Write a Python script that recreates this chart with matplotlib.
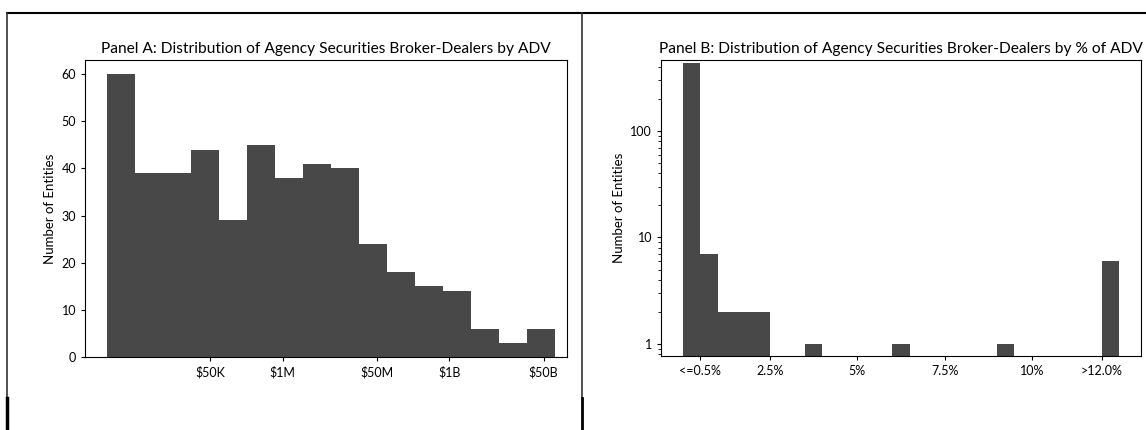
import matplotlib
matplotlib.use('Agg')
import matplotlib.pyplot as plt
from matplotlib.lines import Line2D
import numpy as np

plt.rcParams['font.family'] = ['Lato', 'DejaVu Sans']

# Panel A: counts per ADV bin (x axis is log10 of ADV in $)
adv_counts = [60, 39, 39, 44, 29, 45, 38, 41, 40, 24, 18, 15, 14, 6, 3, 6]
adv_bin_lo = 2.835
adv_bin_hi = 10.90
adv_tick_values = [5e4, 1e6, 5e7, 1e9, 5e10]
adv_tick_labels = ['$50K', '$1M', '$50M', '$1B', '$50B']

# Panel B: counts per 0.5% bin of share of ADV
pct_edges = np.arange(0, 12.51, 0.5)
pct_counts = [439, 7, 2, 2, 2, 0, 0, 1, 0, 0, 0, 0, 1, 0, 0, 0, 0, 0, 1, 0, 0, 0, 0, 0, 6]
pct_ticks = [0.5, 2.5, 5, 7.5, 10, 12]
pct_tick_labels = ['<=0.5%', '2.5%', '5%', '7.5%', '10%', '>12.0%']

bar_color = '#484848'

fig = plt.figure(figsize=(11.46, 4.30), dpi=100)
W, H = 1146, 430

def px_axes(left, top, right, bottom):
    return fig.add_axes([left / W, 1 - bottom / H, (right - left) / W, (bottom - top) / H])

# ---- Panel A
ax1 = px_axes(85, 60, 567, 357)
adv_edges = np.linspace(adv_bin_lo, adv_bin_hi, len(adv_counts) + 1)
ax1.hist(adv_edges[:-1], bins=adv_edges, weights=adv_counts, color=bar_color)
ax1.set_xlim(2.44, 11.12)
ax1.set_ylim(0, 63)
ax1.set_xticks(np.log10(adv_tick_values))
ax1.set_xticklabels(adv_tick_labels)
ax1.set_yticks([0, 10, 20, 30, 40, 50, 60])
ax1.set_ylabel('Number of Entities', fontsize=9.5)
ax1.set_title('Panel A: Distribution of Agency Securities Broker-Dealers by ADV', fontsize=11.2, pad=5)

# ---- Panel B
ax2 = px_axes(661, 60, 1141, 356)
ax2.hist(pct_edges[:-1], bins=pct_edges, weights=pct_counts, color=bar_color)
ax2.set_yscale('log')
ax2.set_ylim(0.77, 465)
ax2.set_xlim(-0.625, 13.125)
ax2.set_yticks([1, 10, 100])
ax2.set_yticklabels(['1', '10', '100'])
ax2.set_xticks(pct_ticks)
ax2.set_xticklabels(pct_tick_labels)
ax2.set_ylabel('Number of Entities', fontsize=9.5)
ax2.set_title('Panel B: Distribution of Agency Securities Broker-Dealers by % of ADV', fontsize=11.2, pad=5)

for ax in (ax1, ax2):
    ax.tick_params(labelsize=9, length=3, width=0.8)
    for s in ax.spines.values():
        s.set_linewidth(0.8)

# table-like frame lines
def fig_line(x0, y0, x1, y1, lw, color='black'):
    fig.add_artist(Line2D([x0 / W, x1 / W], [1 - y0 / H, 1 - y1 / H],
                          transform=fig.transFigure, color=color, lw=lw))

fig_line(7, 13, W, 13, 1.5)
fig_line(7, 13, 7, 398, 1.2, '#333333')
fig_line(7, 398, 7, H, 2.5)
fig_line(582, 13, 582, 398, 1.2, '#333333')
fig_line(582, 398, 582, H, 2.0)

fig.savefig('out.png', dpi=100)
